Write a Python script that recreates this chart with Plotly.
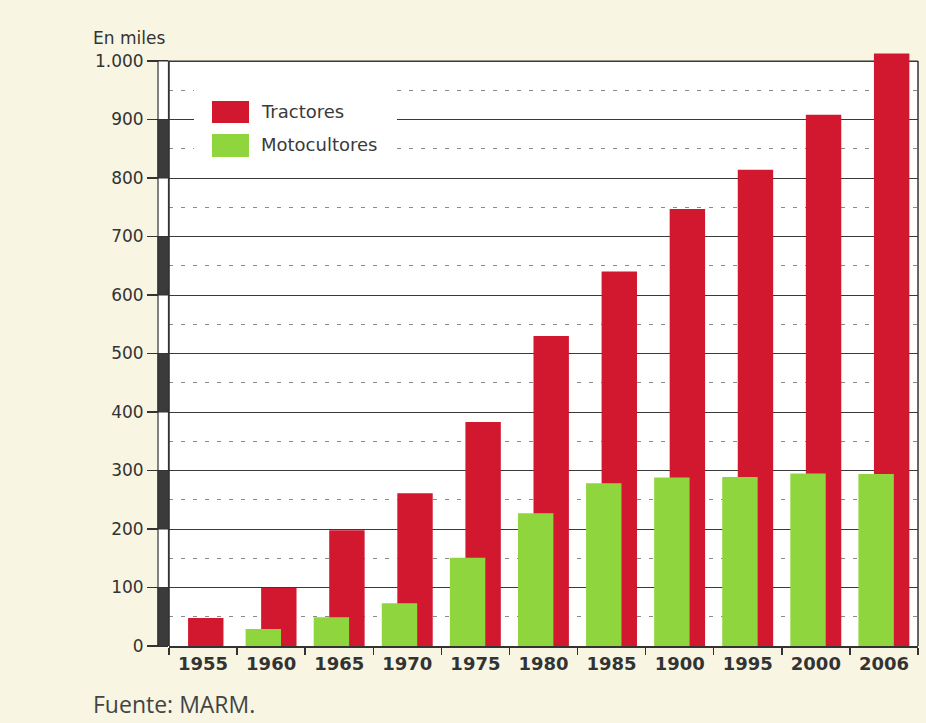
import plotly.graph_objects as go

# ---- data ----
years = ["1955", "1960", "1965", "1970", "1975", "1980", "1985", "1900", "1995", "2000", "2006"]
tractores = [48, 99, 198, 261, 383, 530, 640, 747, 814, 908, 1013]
motocultores = [0, 29, 49, 73, 151, 227, 278, 288, 289, 295, 294]
y_ticks = [0, 100, 200, 300, 400, 500, 600, 700, 800, 900, 1000]
y_ticktext = ["0", "100", "200", "300", "400", "500", "600", "700", "800", "900", "1.000"]

RED = "#d2182f"
GREEN = "#8fd63e"
CREAM = "#f8f6e2"
INK = "#333333"

BAR_W = 0.52
red_offsets = [(-0.22 if m == 0 else -0.147) for m in motocultores]

fig = go.Figure()
fig.add_trace(go.Bar(
    x=years, y=tractores, name="Tractores",
    marker=dict(color=RED, line=dict(width=0)),
    width=[BAR_W] * len(years), offset=red_offsets,
    showlegend=False,
))
fig.add_trace(go.Bar(
    x=years, y=motocultores, name="Motocultores",
    marker=dict(color=GREEN, line=dict(width=0)),
    width=[BAR_W] * len(years), offset=[-0.375] * len(years),
    showlegend=False,
))

FONT = "DejaVu Sans"
TOP_PX, BOT_PX, LEFT_PX, RIGHT_PX = 53, 646, 169, 918
PX_PER_UNIT = 0.585
Y_TOP = (BOT_PX - TOP_PX) / PX_PER_UNIT
PLOT_W = RIGHT_PX - LEFT_PX
PLOT_H = BOT_PX - TOP_PX

fig.update_layout(
    width=926, height=723,
    margin=dict(l=LEFT_PX, r=926 - RIGHT_PX, t=TOP_PX, b=723 - BOT_PX, pad=0),
    paper_bgcolor=CREAM, plot_bgcolor=CREAM,
    barmode="overlay",
    font=dict(family=FONT, color=INK, size=17),
    xaxis=dict(
        type="category",
        tickson="boundaries",
        ticks="outside", ticklen=7, tickwidth=1.5, tickcolor=INK,
        showline=True, linecolor=INK, linewidth=2, mirror=False,
        showgrid=False,
        tickfont=dict(family=FONT, size=18, color=INK, weight="bold"),
        fixedrange=True,
    ),
    yaxis=dict(
        range=[0, Y_TOP],
        tickvals=y_ticks, ticktext=y_ticktext,
        ticks="outside", ticklen=21, tickwidth=1.5, tickcolor=INK,
        showline=False,
        showgrid=True, gridcolor="#3a3a3a", gridwidth=1,
        zeroline=False,
        minor=dict(dtick=50, showgrid=True, gridcolor="#8a8a8a",
                   gridwidth=1, griddash="4px,8px", ticks=""),
        tickfont=dict(family=FONT, size=17, color=INK),
        fixedrange=True,
    ),
)


def px_x(p):
    return (p - LEFT_PX) / PLOT_W


def px_y(p):
    return (BOT_PX - p) / PX_PER_UNIT


def paper_y(p):
    return (BOT_PX - p) / PLOT_H


shapes = []
# white plotting panel up to 1000 (beneath grid lines)
shapes.append(dict(type="rect", xref="paper", yref="y", x0=0, x1=1, y0=0, y1=1000,
                   fillcolor="white", line=dict(width=0), layer="below"))
# panel borders (left, right, top)
shapes.append(dict(type="line", xref="paper", yref="y", x0=0, x1=0, y0=0, y1=1000,
                   line=dict(color=INK, width=1.5), layer="above"))
shapes.append(dict(type="line", xref="paper", yref="y", x0=1, x1=1, y0=0, y1=1000,
                   line=dict(color=INK, width=1.5), layer="below"))
shapes.append(dict(type="line", xref="paper", yref="y", x0=0, x1=1, y0=1000, y1=1000,
                   line=dict(color=INK, width=1.2), layer="below"))
# left striped axis strip (outside the plot area)
sx0 = px_x(158)
sx1 = px_x(168.5)
shapes.append(dict(type="rect", xref="paper", yref="y", x0=sx0, x1=sx1, y0=0, y1=1000,
                   fillcolor="white", line=dict(color=INK, width=1.2), layer="above"))
for lo in range(0, 1000, 200):
    shapes.append(dict(type="rect", xref="paper", yref="y", x0=sx0, x1=sx1, y0=lo, y1=lo + 100,
                       fillcolor="#3b3b3b", line=dict(color=INK, width=1.2), layer="above"))

# legend box (white, breaks grid lines)
shapes.append(dict(type="rect", xref="paper", yref="y",
                   x0=px_x(194), x1=px_x(397), y0=px_y(165), y1=px_y(76),
                   fillcolor="white", line=dict(width=0), layer="above"))
shapes.append(dict(type="rect", xref="paper", yref="y",
                   x0=px_x(212), x1=px_x(249), y0=px_y(123), y1=px_y(101),
                   fillcolor=RED, line=dict(width=0), layer="above"))
shapes.append(dict(type="rect", xref="paper", yref="y",
                   x0=px_x(212), x1=px_x(249), y0=px_y(157), y1=px_y(134),
                   fillcolor=GREEN, line=dict(width=0), layer="above"))
fig.update_layout(shapes=shapes)

annotations = [
    dict(text="Tractores", xref="paper", yref="y", x=px_x(259), y=px_y(111),
         xanchor="left", yanchor="middle", showarrow=False,
         font=dict(family=FONT, size=18, color="#3a3a3a")),
    dict(text="Motocultores", xref="paper", yref="y", x=px_x(259), y=px_y(144),
         xanchor="left", yanchor="middle", showarrow=False,
         font=dict(family=FONT, size=18, color="#3a3a3a")),
    dict(text="En miles", xref="paper", yref="paper", x=px_x(91), y=paper_y(38),
         xanchor="left", yanchor="middle", showarrow=False,
         font=dict(family=FONT, size=17, color=INK)),
    dict(text="Fuente: MARM.", xref="paper", yref="paper", x=px_x(91), y=paper_y(704),
         xanchor="left", yanchor="middle", showarrow=False,
         font=dict(family="Open Sans", size=23, color="#444444")),
]
fig.update_layout(annotations=annotations)

fig.write_html(
    "out.html",
    config={"displayModeBar": False, "staticPlot": True},
    post_script="document.body.style.margin='0';document.body.style.overflow='hidden';",
)
